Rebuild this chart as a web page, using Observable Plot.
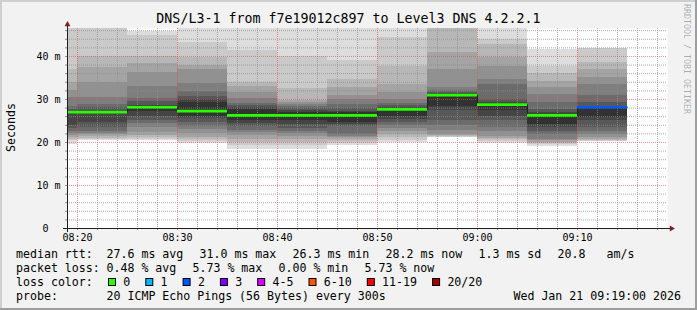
<!DOCTYPE html>
<html><head><meta charset="utf-8">
<script src="https://cdn.jsdelivr.net/npm/d3@7"></script>
<script src="https://cdn.jsdelivr.net/npm/@observablehq/plot@0.6"></script>
<style>
html,body{margin:0;padding:0;background:#f2f2f2;}
#chart{position:relative;width:697px;height:310px;background:#f2f2f2;overflow:hidden;font-family:"DejaVu Sans Mono",monospace;}
#chart svg{position:absolute;left:0;top:0;}
.edge{position:absolute;}
</style></head><body>
<div id="chart"></div>
<script>
// ---------------- data ----------------
const title = "DNS/L3-1 from f7e19012c897 to Level3 DNS 4.2.2.1";
const day = "2026-01-21";
const windowStart = "08:19", windowEnd = "09:19";
const boundaries = ["08:19","08:20","08:25","08:30","08:35","08:40","08:45","08:50","08:55","09:00","09:05","09:10","09:15"];
const medianRtt = [27.05, 27.05, 28.2, 27.3, 26.3, 26.3, 26.3, 27.7, 31.0, 28.8, 26.3, 28.2];
const lossPct   = [0, 0, 0, 0, 0, 0, 0, 0, 0, 0, 0, 5.73];
const pingsPerStep = 20;
// 20 sorted ping RTTs (ms) per step; Infinity = above graph max, null = lost
const pings = [
  [19.5,20.5,20.8,21.2,21.6,22.1,22.6,23.3,24.0,26.8,27.1,27.3,27.6,28.4,30.4,32.1,34.0,37.0,Infinity,Infinity],
  [20.4,20.8,21.0,21.4,21.8,22.2,22.6,23.4,24.7,26.8,27.2,27.4,28.1,28.8,30.4,34.0,37.5,40.0,Infinity,Infinity],
  [20.4,20.7,21.1,21.6,22.3,23.5,24.4,25.0,26.1,27.1,28.4,28.7,29.5,30.2,33.1,36.3,38.3,40.0,44.8,45.8],
  [19.7,20.3,20.8,21.1,22.0,23.0,23.8,24.6,25.6,26.1,29.2,30.0,30.8,31.9,33.6,37.0,38.0,39.8,43.2,Infinity],
  [18.3,19.2,20.1,20.8,21.6,22.4,22.9,23.7,24.5,25.0,27.6,28.1,28.5,29.0,30.2,31.7,33.0,34.0,41.4,Infinity],
  [18.4,19.3,20.0,20.6,21.3,22.0,22.6,23.2,24.2,25.0,27.0,27.4,27.9,28.3,28.8,29.3,29.8,32.5,40.0,Infinity],
  [19.3,19.8,20.2,20.6,21.1,21.5,21.8,23.6,24.2,24.6,26.9,27.3,28.0,28.8,30.0,31.0,32.7,34.7,39.1,Infinity],
  [19.9,20.5,21.1,21.8,22.6,23.3,24.0,24.6,25.3,26.1,27.9,28.1,28.5,29.0,30.0,31.6,33.5,37.7,44.5,Infinity],
  [21.1,21.2,21.4,21.6,21.9,22.8,24.0,25.0,27.5,28.4,31.2,31.4,31.7,32.2,32.7,37.0,40.9,Infinity,Infinity,Infinity],
  [19.8,20.2,20.7,21.0,21.5,22.6,23.4,25.0,26.1,27.4,29.0,29.2,30.0,33.5,34.7,37.7,39.7,42.8,44.0,Infinity],
  [19.1,19.5,19.8,20.1,20.4,20.7,21.9,22.6,23.4,24.2,26.6,26.9,27.7,29.2,31.2,32.7,34.1,36.0,37.7,41.6],
  [20.1,20.3,20.5,20.8,21.2,21.8,22.5,23.4,25.0,25.7,28.3,28.4,29.2,31.0,33.5,35.0,37.0,38.5,41.9,null]
];
const yMax = 46.5;
const yTicks = [0, 10, 20, 30, 40];
const xTicks = ["08:20","08:30","08:40","08:50","09:00","09:10"];
const lossLabels = ["0","1","2","3","4-5","6-10","11-19","20/20"];
const lossColors = ["#26ff00","#00b8ff","#0059ff","#7e00ff","#dd00ff","#ff5500","#ff0000","#a10000"];
const lossMaxPings = [0, 1, 2, 3, 5, 10, 19, 20];
const rttStats = [["27.6","avg"],["31.0","max"],["26.3","min"],["28.2","now"],["1.3","sd"]];
const rttAmS = "20.8";
const lossStats = [["0.48","avg"],["5.73","max"],["0.00","min"],["5.73","now"]];
const probeText = "20 ICMP Echo Pings (56 Bytes) every 300s";
const stamp = "Wed Jan 21 09:19:00 2026";
const watermark = "RRDTOOL / TOBI OETIKER";
const yLabel = "Seconds";

// ---------------- build ----------------
const t = s => new Date(`${day}T${s}:00Z`);
const x0 = t(windowStart), x1 = t(windowEnd);
const W = 697, H = 245, mL = 67, mR = 30, mT = 28, mB = 17;
const msPerPx = (x1 - x0) / (W - mL - mR);
const unitPerPx = yMax / (H - mT - mB);
const lossIndex = pct => { const lost = pct / 100 * pingsPerStep; return lossMaxPings.findIndex(u => lost <= u + 1e-9); };

const segs = medianRtt.map((m, i) => ({x1: t(boundaries[i]), x2: t(boundaries[i+1]), median: m, loss: lossPct[i], ping: pings[i]}));
const half = pingsPerStep / 2;
const bands = [];
segs.forEach(s => {
  for (let k = 1; k <= half; k++) {
    const lo = s.ping[k-1], hi = s.ping[pingsPerStep - k];
    if (lo == null || hi == null) continue;
    const g = Math.floor(190 / half * (half - k)) + 50;
    bands.push({x1: s.x1, x2: s.x2, lo: Math.min(lo, yMax), hi: Math.min(hi, yMax), color: `rgb(${g},${g},${g})`});
  }
});
const stepPts = segs.map(s => ({x: s.x1, y: s.median}));
stepPts.push({x: segs[segs.length-1].x2, y: segs[segs.length-1].median});

const xMajor = xTicks.map(t);
const xAll = d3.utcMinute.every(2).range(t("08:20"), x1);
const xMinor = xAll.filter(d => d.getUTCMinutes() % 10 !== 0);
const yAll = d3.range(2, yMax, 2);
const yMinor = yAll.filter(v => v % 10 !== 0);
const yMajor = yTicks.filter(v => v > 0);

const gridMinor = {stroke: "#8f8f8f", strokeOpacity: 0.75, strokeDasharray: "1,1"};
const gridMajor = {stroke: "#de4f4f", strokeOpacity: 0.6, strokeDasharray: "1,1"};

const plot = Plot.plot({
  width: W, height: H, marginLeft: mL, marginRight: mR, marginTop: mT, marginBottom: mB,
  x: {type: "utc", domain: [x0, x1], label: null},
  y: {domain: [0, yMax], label: null},
  color: {type: "identity"},
  style: {background: "transparent", fontFamily: "DejaVu Sans Mono", fontSize: "10px", color: "#000", overflow: "visible"},
  marks: [
    Plot.frame({fill: "white", stroke: "none"}),
    Plot.rect(bands, {x1: "x1", x2: "x2", y1: "lo", y2: "hi", fill: "color", shapeRendering: "crispEdges"}),
    Plot.ruleX(xMinor, gridMinor),
    Plot.ruleY(yMinor, gridMinor),
    Plot.ruleX(xMajor, gridMajor),
    Plot.ruleY(yMajor, gridMajor),
    Plot.ruleX(xAll, {y1: 0, y2: -2 * unitPerPx, stroke: "#8f8f8f"}),
    Plot.ruleY(yAll, {x1: new Date(+x0 - 2 * msPerPx), x2: x0, stroke: "#8f8f8f"}),
    Plot.line(stepPts, {x: "x", y: "y", curve: "step-after", stroke: "#202020", strokeWidth: 1}),
    Plot.ruleY(segs, {x1: "x1", x2: "x2", y: "median", stroke: d => lossColors[lossIndex(d.loss)], strokeWidth: 2.6}),
    Plot.ruleY([0], {x1: new Date(+x0 - 4 * msPerPx), x2: new Date(+x1 + 3 * msPerPx), stroke: "#1f1f1f"}),
    Plot.ruleX([x0], {y1: -4 * unitPerPx, y2: yMax + 3 * unitPerPx, stroke: "#1f1f1f"}),
    Plot.dot([0], {x: new Date(+x1 + 4 * msPerPx), y: 0, symbol: "triangle", r: 2.2, rotate: 90, fill: "#801f1f", stroke: "none"}),
    Plot.dot([0], {x: x0, y: yMax + 4 * unitPerPx, symbol: "triangle", r: 2.2, fill: "#801f1f", stroke: "none"}),
    Plot.axisX(xMajor, {tickSize: 0, tickPadding: 5, tickFormat: d3.utcFormat("%H:%M"), fontSize: 10, label: null, fill: "#000"}),
    Plot.axisY(yTicks, {tickSize: 0, tickPadding: 7, tickFormat: d => d === 0 ? "0\u00a0\u00a0" : `${d}\u00a0m`, fontSize: 10, label: null, fill: "#000"})
  ]
});

const chart = document.getElementById("chart");
chart.appendChild(plot);

// frame edges
[["0px","0px","697px","2px","#cfcfcf"],["0px","0px","2px","310px","#cfcfcf"],
 ["0px","308px","697px","2px","#9e9e9e"],["695px","0px","2px","310px","#9e9e9e"]].forEach(([l,tp,w,h,c]) => {
  const e = document.createElement("div"); e.className = "edge";
  Object.assign(e.style, {left: l, top: tp, width: w, height: h, background: c});
  chart.appendChild(e);
});

// overlay texts: title, y label, legend, watermark
const svg = d3.create("svg").attr("width", 697).attr("height", 310)
  .attr("font-family", "DejaVu Sans Mono").style("pointer-events", "none");
const txt = (x, y, s, size, opts = {}) => svg.append("text").attr("x", x).attr("y", y)
  .attr("font-size", size).attr("fill", opts.fill || "#000")
  .attr("text-anchor", opts.anchor || "start")
  .attr("xml:space", "preserve").text(s);

txt(348.5, 23.3, title, 13.3, {anchor: "middle"});
svg.append("text").attr("transform", "translate(15,127.5) rotate(-90)").attr("text-anchor", "middle")
  .attr("font-size", 11.6).text(yLabel);
svg.append("text").attr("transform", "translate(684,4) rotate(90)").attr("font-size", 8.3)
  .attr("fill", "rgba(0,0,0,0.3)").text(watermark);

const fs = 11.6, cw = 7.0, col0 = 16, colVal = 106.5, glue = 16;
const rows = [258, 272, 286, 300];
// lay out a row of legend items left to right with constant glue
const flow = (items, y) => { let x = colVal; items.forEach(s => { txt(x, y, s, fs); x += s.length * cw + glue; }); return x; };

txt(col0, rows[0], "median rtt:", fs);
const xEnd1 = flow([...rttStats.map(([v, k]) => `${v} ms ${k}`), rttAmS], rows[0]);
txt(xEnd1 - glue + 3 * cw, rows[0], "am/s", fs);

txt(col0, rows[1], "packet loss:", fs);
flow(lossStats.map(([v, k]) => `${v} % ${k}`), rows[1]);

txt(col0, rows[2], "loss color:", fs);
let bx = 108;
lossLabels.forEach((lab, i) => {
  svg.append("rect").attr("x", bx + 0.5).attr("y", rows[2] - 7.5).attr("width", 7).attr("height", 7)
    .attr("fill", lossColors[i]).attr("stroke", "#000").attr("stroke-width", 1);
  txt(bx + 15.3, rows[2], lab, fs);
  bx += 15 + lab.length * cw + 15.3;
});

txt(col0, rows[3], "probe:", fs);
txt(colVal, rows[3], probeText, fs);
txt(681, rows[3], stamp, fs, {anchor: "end"});

chart.appendChild(svg.node());
</script></body></html>
